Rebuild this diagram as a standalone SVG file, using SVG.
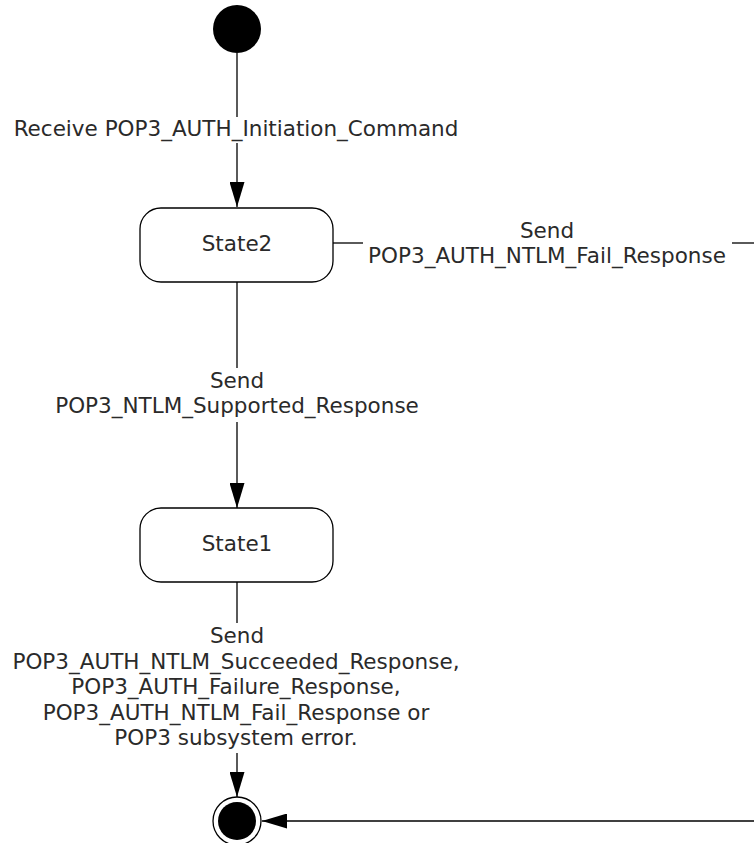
<svg xmlns="http://www.w3.org/2000/svg" width="754" height="843" viewBox="0 0 754 843">
<style>
  .lbl { font-family: "DejaVu Sans", Verdana, sans-serif; font-size: 21.5px; fill: #2a2a2a; text-anchor: middle; }
  .conn { fill: none; stroke: #000; stroke-width: 1.3; }
  .state { fill: #fff; stroke: #000; stroke-width: 1.3; }
</style>
<defs>
  <marker id="arrow" viewBox="0 0 25 15" refX="25" refY="7.5" markerWidth="25" markerHeight="15" markerUnits="userSpaceOnUse" orient="auto">
    <path d="M0,0 L25,7.5 L0,15 Z" fill="#000"/>
  </marker>
</defs>
<rect width="754" height="843" fill="#fff"/>

<g id="connectors">
  <line class="conn" x1="237" y1="53" x2="237" y2="117"/>
  <line class="conn" x1="237" y1="143" x2="237" y2="207" marker-end="url(#arrow)"/>
  <line class="conn" x1="237" y1="282" x2="237" y2="368"/>
  <line class="conn" x1="237" y1="422" x2="237" y2="508" marker-end="url(#arrow)"/>
  <line class="conn" x1="237" y1="582" x2="237" y2="623"/>
  <line class="conn" x1="237" y1="753" x2="237" y2="797" marker-end="url(#arrow)"/>
  <line class="conn" x1="333" y1="243" x2="363" y2="243"/>
  <line class="conn" x1="732" y1="243" x2="760" y2="243"/>
  <line class="conn" x1="760" y1="821" x2="262" y2="821" marker-end="url(#arrow)"/>
  <text class="lbl" x="236" y="136">Receive POP3_AUTH_Initiation_Command</text>
  <text class="lbl" x="237" y="388">Send</text>
  <text class="lbl" x="237" y="413">POP3_NTLM_Supported_Response</text>
  <text class="lbl" x="547" y="238">Send</text>
  <text class="lbl" x="547" y="263">POP3_AUTH_NTLM_Fail_Response</text>
  <text class="lbl" x="237" y="643">Send</text>
  <text class="lbl" x="236" y="668.5">POP3_AUTH_NTLM_Succeeded_Response,</text>
  <text class="lbl" x="236" y="694">POP3_AUTH_Failure_Response,</text>
  <text class="lbl" x="236" y="719.5">POP3_AUTH_NTLM_Fail_Response or</text>
  <text class="lbl" x="236" y="745">POP3 subsystem error.</text>
</g>

<g id="initial">
  <circle cx="237" cy="29" r="24" fill="#000"/>
</g>

<g id="state2">
  <rect class="state" x="140" y="208" width="193" height="74" rx="21" ry="21"/>
  <text class="lbl" x="237" y="251">State2</text>
</g>

<g id="state1">
  <rect class="state" x="140" y="508" width="193" height="74" rx="21" ry="21"/>
  <text class="lbl" x="237" y="551">State1</text>
</g>

<g id="final">
  <circle cx="237" cy="821" r="24" fill="#fff" stroke="#000" stroke-width="1.3"/>
  <circle cx="237" cy="821" r="19" fill="#000"/>
</g>
</svg>
